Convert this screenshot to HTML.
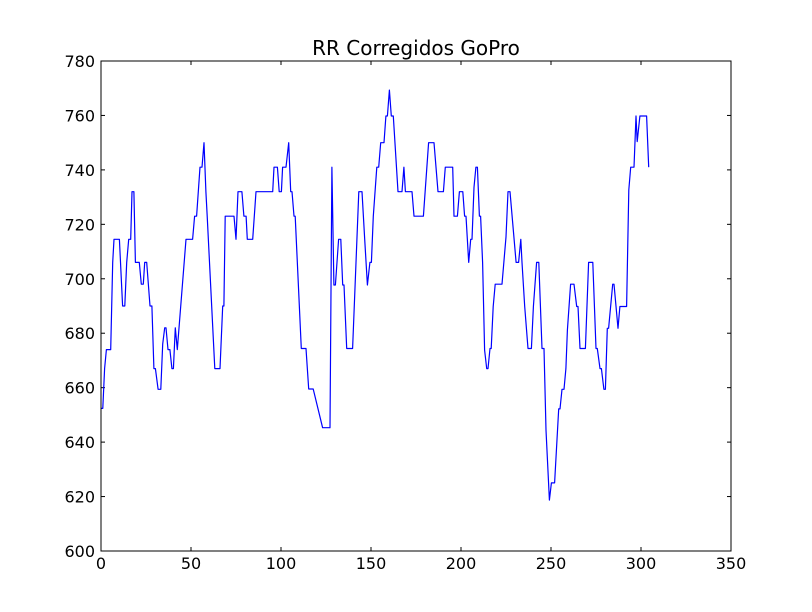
<!DOCTYPE html>
<html><head><meta charset="utf-8"><style>
body{margin:0;background:#fff;}
svg{display:block;font-family:"DejaVu Sans","Liberation Sans",sans-serif;}
</style></head><body>
<svg id="chart" width="812" height="612" viewBox="0 0 812 612" xmlns="http://www.w3.org/2000/svg">
<rect width="812" height="612" fill="#fff"/>
<text x="416" y="55" font-size="20" text-anchor="middle">RR Corregidos GoPro</text>
<g id="ticks"></g>
<polyline id="series" fill="none" stroke="#0000ff" stroke-width="1.2" stroke-linejoin="round"/>
<rect x="101" y="61" width="630" height="490" fill="none" stroke="#000" stroke-width="1"/>
</svg>
<script>
const xs=[0,1,2,3,5.4,6.5,7.2,10.2,12,13.2,14.3,15.4,16.5,17.2,18.3,19.1,21.3,22.4,23.5,24.3,25.4,27.2,28.3,29.4,30.2,31.7,33.2,34.3,35.4,36.1,37.2,38.3,39.4,40.2,41.3,42.4,47.2,50.9,52,53.1,55,56.1,57.2,58.3,59,63.2,66.1,67.6,68.3,69,73.9,75,76.1,78.3,79.4,80.6,81.3,84.3,86.1,95.4,96.1,98,99,100.2,100.9,102.8,104.3,105.4,106.1,107.2,107.9,111.3,113.9,115.4,117.9,123.1,127.2,128.3,129.4,130.2,132,133.2,134.3,135,136.5,139.8,143.2,145,146.5,148,149.4,150.2,151.3,153.2,154.3,155.4,157.2,158.3,159.1,160.2,161.3,162.4,165,167.2,168.3,169.1,172.8,173.9,179.1,182,185,187.2,190.2,191.3,195.4,196.1,198,199.1,201,202,202.8,204.3,205.4,206.1,207.2,208.3,209.1,210.2,210.9,212,213.1,214.3,215,216.1,216.8,217.9,219,222.8,225,226.1,227.2,230.6,232,233.2,233.9,235.4,237.2,239.1,240.2,242,243.2,245,246.1,247.2,249.1,250.2,252,254.3,255,256.1,257.2,258.3,259.1,260.9,262.8,264.3,265,266.1,269.1,270.9,273.2,275,275.7,277.2,278,279.4,280.2,281.3,282,284.3,285,287.2,288.3,292,293.2,294.3,296.1,297.2,297.9,299.4,303.1,304.3];
const ys=[652.4,652.4,667,674,674,706,714.5,714.5,690,690,706,714.5,714.5,732,732,706,706,698,698,706,706,690,690,667,667,659.4,659.4,676,682,682,674,674,667,667,682,674,714.5,714.5,723,723,741,741,750,732,723,667,667,690,690,723,723,714.5,732,732,723,723,714.5,714.5,732,732,741,741,732,732,741,741,750,732,732,723,723,674.4,674.4,659.5,659.5,645.3,645.3,741,697.7,697.7,714.5,714.5,697.7,697.7,674.4,674.4,732,732,714.5,697.7,706,706,723,741,741,750,750,759.8,759.8,769.3,759.8,759.8,732,732,741,732,732,723,723,750,750,732,732,741,741,723,723,732,732,723,723,706,714.5,714.5,733.6,741,741,723,723,706,673.8,667,667,674.4,674.4,689.8,698,698,715.4,732,732,706,706,714.5,706,689.8,674.4,674.4,689.8,706,706,674.4,674.4,644.4,618.7,625,625,652.2,652.2,659.4,659.4,667,681.2,698,698,689.8,689.8,674.4,674.4,706,706,674.4,674.4,667,667,659.4,659.4,681.8,681.8,698,698,681.8,689.8,689.8,732.6,741,741,759.8,750.4,759.8,759.8,741];
const xTicks=[0,50,100,150,200,250,300,350];
const yTicks=[600,620,640,660,680,700,720,740,760,780];
const X0=101,X1=731,Y0=551,Y1=61,xmin=0,xmax=350,ymin=600,ymax=780;
function sx(v){return X0+(v-xmin)/(xmax-xmin)*(X1-X0);}
function sy(v){return Y0-(v-ymin)/(ymax-ymin)*(Y0-Y1);}
const NS="http://www.w3.org/2000/svg";
const g=document.getElementById('ticks');
function line(x1,y1,x2,y2){const l=document.createElementNS(NS,'line');l.setAttribute('x1',x1);l.setAttribute('y1',y1);l.setAttribute('x2',x2);l.setAttribute('y2',y2);l.setAttribute('stroke','#000');l.setAttribute('stroke-width','1');


g.appendChild(l);}
xTicks.forEach(t=>{const x=sx(t);line(x,Y0,x,Y0-4);line(x,Y1,x,Y1+4);
const tx=document.createElementNS(NS,'text');tx.setAttribute('x',x);tx.setAttribute('y',Y0+18);tx.setAttribute('font-size','16');tx.setAttribute('text-anchor','middle');tx.textContent=t;


g.appendChild(tx);});
yTicks.forEach(t=>{const y=sy(t);line(X0,y,X0+4,y);line(X1,y,X1-4,y);
const tx=document.createElementNS(NS,'text');tx.setAttribute('x',X0-6);tx.setAttribute('y',y+6);tx.setAttribute('font-size','16');tx.setAttribute('text-anchor','end');tx.textContent=t;


g.appendChild(tx);});
document.getElementById('series').setAttribute('points',xs.map((x,i)=>sx(x).toFixed(1)+','+sy(ys[i]).toFixed(1)).join(' '));
</script>
</body></html>
